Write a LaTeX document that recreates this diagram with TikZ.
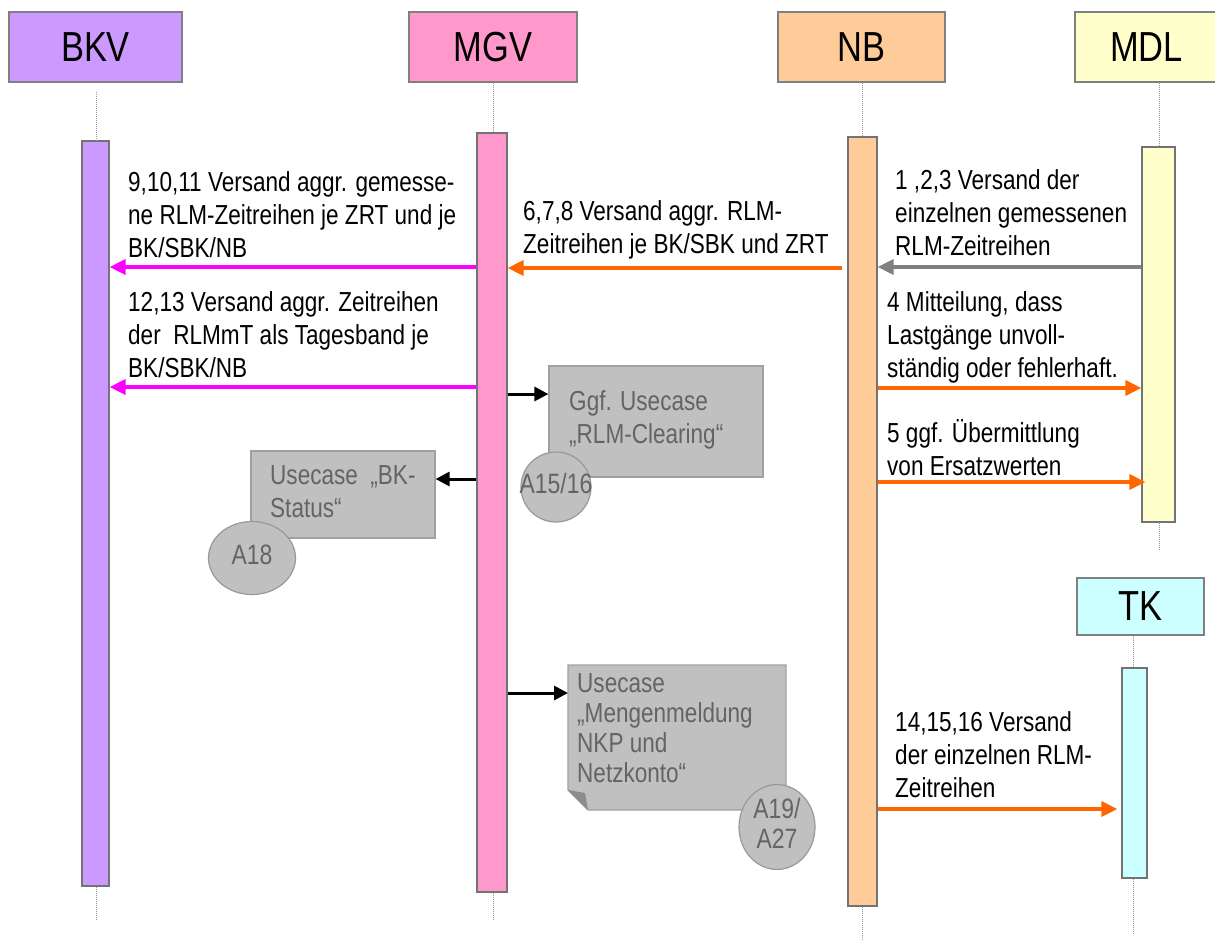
\documentclass[tikz,border=0pt]{standalone}
\usepackage{fontspec}
\setmainfont{Liberation Sans}[FakeStretch=0.82]
\usetikzlibrary{arrows.meta,shapes.geometric}

\definecolor{bkvc}{HTML}{CC99FF}
\definecolor{mgvc}{HTML}{FF99CC}
\definecolor{nbc}{HTML}{FFCC99}
\definecolor{mdlc}{HTML}{FFFFCC}
\definecolor{tkc}{HTML}{CCFFFF}
\definecolor{msgmag}{HTML}{FF00FF}
\definecolor{msgora}{HTML}{FF6600}
\definecolor{msggry}{HTML}{808080}
\definecolor{ucfill}{HTML}{C0C0C0}
\definecolor{ucline}{HTML}{A0A0A0}
\definecolor{uctext}{HTML}{646464}

% multi-line label whose reference point is the baseline of its last line
\newcommand{\msgtxt}[1]{\begin{tabular}[b]{@{}l@{}}#1\end{tabular}}
% centred text that may run past the outline of its mark
\newcommand{\overtxt}[1]{\makebox[0pt][c]{\begin{tabular}{@{}c@{}}#1\end{tabular}}}

\begin{document}
\begin{tikzpicture}[x=1pt,y=-1pt,
  head/.style={draw=black!50, line width=1.2pt, minimum height=70pt, inner sep=0pt,
               font=\fontsize{42}{50}\selectfont},
  bar/.style={draw=black!55, line width=1.2pt, inner sep=0pt},
  life/.style={draw=black!40, line width=0.9pt, dash pattern=on 1pt off 1pt},
  msg/.style={line width=3.4pt, -{Triangle[length=16pt,width=15pt]}},
  call/.style={line width=3pt, black, -{Triangle[length=14pt,width=14pt]}},
  lbl/.style={anchor=base west, inner sep=0pt, font=\fontsize{27.5}{33}\selectfont},
  uc/.style={fill=ucfill, draw=ucline, line width=1.2pt, inner sep=0pt},
  uctxt/.style={lbl, text=uctext},
  refmark/.style={ellipse, fill=ucfill, draw=black!40, line width=1.2pt, inner sep=0pt,
                  text=uctext, font=\fontsize{28}{30}\selectfont}
]
\useasboundingbox (0,0) rectangle (1215,940);
\fill[white] (0,0) rectangle (1215,940);

% participants
\node[head, fill=bkvc, minimum width=173pt] (bkv) at (95.5,47) {BKV};
\node[head, fill=mgvc, minimum width=168pt] (mgv) at (493,47) {MGV};
\node[head, fill=nbc,  minimum width=167pt] (nb)  at (861.5,47) {NB};
\node[head, fill=mdlc, minimum width=143pt] (mdl) at (1146.5,47) {MDL};
\node[head, fill=tkc,  minimum width=127pt, minimum height=57pt] (tk) at (1140.5,606.5) {TK};

% activation bars
\node[bar, fill=bkvc, minimum width=27pt, minimum height=745pt] (bkvbar) at (95.5,513.5) {};
\node[bar, fill=mgvc, minimum width=30pt, minimum height=759pt] (mgvbar) at (492,512.5) {};
\node[bar, fill=nbc,  minimum width=29pt, minimum height=769pt] (nbbar)  at (862.5,521.5) {};
\node[bar, fill=mdlc, minimum width=33pt, minimum height=375pt] (mdlbar) at (1158.5,334.5) {};
\node[bar, fill=tkc,  minimum width=25pt, minimum height=210pt] (tkbar)  at (1134.5,773) {};

% lifelines
\coordinate (bkvtop) at (96,92);
\coordinate (bkvend) at (96,920);
\coordinate (mgvend) at (493,920);
\coordinate (nbend)  at (862,940);
\coordinate (mdlend) at (1159,550);
\coordinate (tkend)  at (1133,933);
\draw[life] (bkvtop) -- (bkvtop |- bkvbar.north);
\draw[life] (bkvbar.south -| bkvend) -- (bkvend);
\draw[life] (mgv.south -| mgvend) -- (mgvbar.north -| mgvend);
\draw[life] (mgvbar.south -| mgvend) -- (mgvend);
\draw[life] (nb.south -| nbend) -- (nbbar.north -| nbend);
\draw[life] (nbbar.south -| nbend) -- (nbend);
\draw[life] (mdl.south -| mdlend) -- (mdlbar.north -| mdlend);
\draw[life] (mdlbar.south -| mdlend) -- (mdlend);
\draw[life] (tk.south -| tkend) -- (tkbar.north -| tkend);
\draw[life] (tkbar.south -| tkend) -- (tkend);

% message levels
\coordinate (y1) at (0,267);
\coordinate (y2) at (0,268);
\coordinate (y3) at (0,387);
\coordinate (y4) at (0,388);
\coordinate (y5) at (0,482);
\coordinate (y6) at (0,809);

% messages
\draw[msg, msggry] (mdlbar.west |- y1) -- (nbbar.east |- y1);
\draw[msg, msgora, shorten <=5pt] (nbbar.west |- y2) -- (mgvbar.east |- y2);
\draw[msg, msgmag] (mgvbar.west |- y1) -- (bkvbar.east |- y1);
\draw[msg, msgmag] (mgvbar.west |- y3) -- (bkvbar.east |- y3);
\draw[msg, msgora] (nbbar.east |- y4) -- (mdlbar.west |- y4);
\draw[msg, msgora, shorten >=-4pt] (nbbar.east |- y5) -- (mdlbar.west |- y5);
\draw[msg, msgora, shorten >=4pt] (nbbar.east |- y6) -- (tkbar.west |- y6);

% message labels
\node[lbl] (t9) at (128,257) {\msgtxt{9,10,11 Versand aggr. gemesse-\\ne RLM-Zeitreihen je ZRT und je\\BK/SBK/NB}};
\node[lbl] (t12) at (128,377) {\msgtxt{12,13 Versand aggr. Zeitreihen\\der \ RLMmT als Tagesband je\\BK/SBK/NB}};
\node[lbl] (t6) at (523,253) {\msgtxt{6,7,8 Versand aggr. RLM-\\Zeitreihen je BK/SBK und ZRT}};
\node[lbl] (t1) at (895,255) {\msgtxt{1 ,2,3 Versand der\\einzelnen gemessenen\\RLM-Zeitreihen}};
\node[lbl] (t4) at (887,377) {\msgtxt{4 Mitteilung, dass\\Lastgänge unvoll-\\ständig oder fehlerhaft.}};
\node[lbl] (t5) at (887,475) {\msgtxt{5 ggf. Übermittlung\\von Ersatzwerten}};
\node[lbl] (t14) at (895,797) {\msgtxt{14,15,16 Versand\\der einzelnen RLM-\\Zeitreihen}};

% referenced use cases
\node[uc, minimum width=214pt, minimum height=111pt] (clearing) at (656,421.5) {};
\node[uc, minimum width=184pt, minimum height=87pt] (bkstatus) at (343,494.5) {};
\node[uctxt] (clearingtxt) at (569,443) {\msgtxt{Ggf. Usecase\\„RLM-Clearing“}};
\node[uctxt] (bkstatustxt) at (270,517) {\msgtxt{Usecase \ „BK-\\Status“}};

% note with folded corner
\coordinate (mengen) at (568,693);
\fill[ucfill, draw=ucline, line width=1.2pt]
  (568,665) -- (786,665) -- (786,810) -- (588,810) -- (568,790) -- cycle;
\fill[black!45] (568,790) -- (588,810) -- (585,793) -- cycle;
\node[uctxt, font=\fontsize{27.5}{30}\selectfont] (mengentxt) at (577,782)
  {\msgtxt{Usecase\\„Mengenmeldung\\NKP und\\Netzkonto“}};

% calls into the use cases
\coordinate (c1) at (0,394);
\coordinate (c2) at (0,479);
\draw[call] (mgvbar.east |- c1) -- (clearing.west |- c1);
\draw[call] (mgvbar.west |- c2) -- (bkstatus.east |- c2);
\draw[call] (mgvbar.east |- mengen) -- (mengen);

% activity references
\node[refmark, minimum width=70pt, minimum height=70pt] (a1516) at (556,487) {\overtxt{A15/16}};
\node[refmark, minimum width=87pt, minimum height=73pt] (a18) at (252,558) {\overtxt{A18}};
\node[refmark, minimum width=76pt, minimum height=80pt] (a1927) at (777,827) {\overtxt{A19/\\A27}};
\end{tikzpicture}
\end{document}
